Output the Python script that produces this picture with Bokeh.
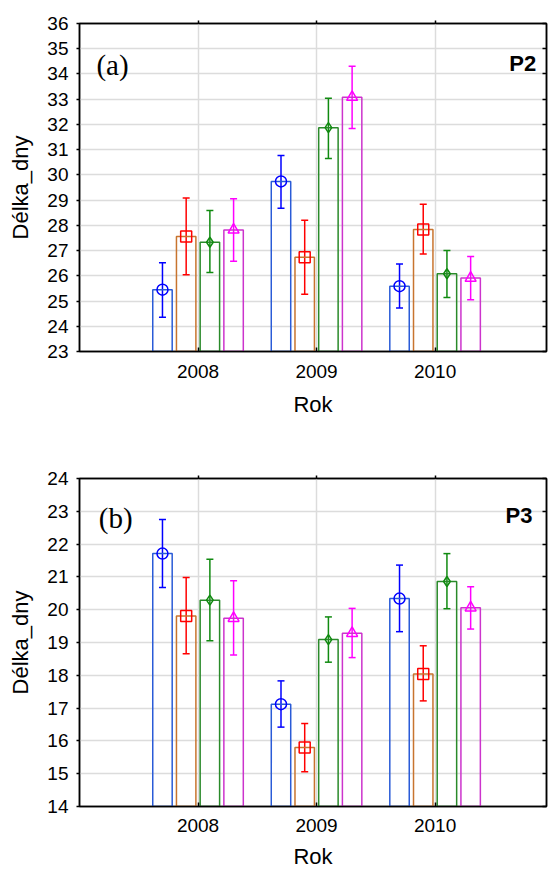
from bokeh.plotting import figure
from bokeh.models import (Range1d, FixedTicker, SingleIntervalTicker, LinearAxis,
                          ColumnDataSource, Whisker, TeeHead, Label)
from bokeh.layouts import column
from bokeh.embed import file_html
from bokeh.resources import INLINE

# ---------------- data ----------------
years = ["2008", "2009", "2010"]
year_pos = [1, 2, 3]

# panel (a) P2
p2_mean_s1 = [25.45, 29.74, 25.59]
p2_mean_s2 = [27.56, 26.74, 27.84]
p2_mean_s3 = [27.33, 31.87, 26.08]
p2_mean_s4 = [27.82, 33.08, 25.91]
p2_up_s1 = [26.52, 30.77, 26.47]
p2_up_s2 = [29.08, 28.20, 28.84]
p2_up_s3 = [28.59, 33.04, 27.00]
p2_up_s4 = [29.05, 34.31, 26.77]
p2_lo_s1 = [24.36, 28.68, 24.72]
p2_lo_s2 = [26.04, 25.27, 26.86]
p2_lo_s3 = [26.13, 30.65, 25.14]
p2_lo_s4 = [26.58, 31.84, 25.05]

# panel (b) P3
p3_mean_s1 = [21.71, 17.12, 20.34]
p3_mean_s2 = [19.81, 15.80, 18.04]
p3_mean_s3 = [20.29, 19.09, 20.86]
p3_mean_s4 = [19.74, 19.28, 20.06]
p3_up_s1 = [22.75, 17.83, 21.36]
p3_up_s2 = [20.98, 16.53, 18.90]
p3_up_s3 = [21.54, 19.78, 21.71]
p3_up_s4 = [20.88, 20.04, 20.70]
p3_lo_s1 = [20.68, 16.42, 19.33]
p3_lo_s2 = [18.66, 15.06, 17.22]
p3_lo_s3 = [19.05, 18.40, 20.03]
p3_lo_s4 = [18.62, 18.54, 19.41]

# ---------------- style ----------------
offsets = [-0.3, -0.1, 0.1, 0.3]
bar_colors = ["#2a5bd7", "#c8742e", "#2a8a2a", "#cc33cc"]
err_colors = ["#0000ff", "#ff0000", "#108a10", "#ff00ff"]
markers = ["circle", "square", "diamond", "triangle"]
msizes = [11, 11, 10, 11]
FONT = "Liberation Sans"


def make_panel(means, ups, los, ymin, ymax, tag, pname, tag_pos, pname_pos,
               height, top_border, bottom_border, xstand, xlabstand):
    p = figure(width=550, height=height, output_backend="svg", toolbar_location=None,
               x_range=Range1d(0, 3.94), y_range=Range1d(ymin, ymax),
               min_border_left=79, min_border_right=0,
               min_border_top=top_border, min_border_bottom=bottom_border)
    p.background_fill_color = "white"
    p.border_fill_color = "white"
    p.outline_line_color = "black"
    p.outline_line_width = 1.5

    p.xaxis.ticker = FixedTicker(ticks=year_pos)
    p.xaxis.major_label_overrides = {pos: yr for pos, yr in zip(year_pos, years)}
    p.yaxis.ticker = SingleIntervalTicker(interval=1)
    for ax in p.xaxis + p.yaxis:
        ax.axis_line_color = "black"
        ax.axis_line_width = 1.5
        ax.major_tick_line_color = "black"
        ax.major_tick_line_width = 1.5
        ax.minor_tick_line_color = None
        ax.major_label_text_font = FONT
        ax.major_label_text_color = "black"
        ax.axis_label_text_font = FONT
        ax.axis_label_text_font_style = "normal"
        ax.axis_label_text_color = "black"
        ax.axis_label_text_font_size = "22px"
    p.xaxis.major_tick_in = 4
    p.xaxis.major_tick_out = 0
    p.xaxis.major_label_text_font_size = "19px"
    p.xaxis.major_label_standoff = xstand
    p.xaxis.axis_label = "Rok"
    p.xaxis.axis_label_standoff = xlabstand
    p.yaxis.major_tick_in = 0
    p.yaxis.major_tick_out = 3
    p.yaxis.major_label_text_font_size = "19px"
    p.yaxis.major_label_standoff = 7
    p.yaxis.axis_label = "Délka_dny"
    p.yaxis.axis_label_standoff = 11

    right = LinearAxis(ticker=SingleIntervalTicker(interval=1), major_tick_in=4, major_tick_out=0,
                       major_label_text_font_size="0px", major_label_text_color=None,
                       major_label_standoff=0,
                       axis_line_color="black", axis_line_width=1.5,
                       major_tick_line_width=1.5, minor_tick_line_color=None)
    p.add_layout(right, "right")
    top = LinearAxis(ticker=FixedTicker(ticks=year_pos), major_tick_in=0, major_tick_out=3,
                     major_label_text_font_size="0px", major_label_text_color=None,
                     major_label_standoff=0,
                     axis_line_color="black", axis_line_width=1.5,
                     major_tick_line_width=1.5, minor_tick_line_color=None)
    p.add_layout(top, "above")

    p.xgrid.ticker = FixedTicker(ticks=year_pos)
    p.xgrid.grid_line_color = "#dcdcdc"
    p.xgrid.grid_line_width = 1.5
    p.ygrid.grid_line_color = "#dcdcdc"
    p.ygrid.grid_line_width = 1.5

    for k in range(4):
        xs = [pos + offsets[k] for pos in year_pos]
        src = ColumnDataSource(dict(x=xs, m=means[k], u=ups[k], l=los[k]))
        p.vbar(x="x", top="m", bottom=ymin, width=0.164, source=src,
               fill_color=None, line_color=bar_colors[k], line_width=1.5)
        wh = Whisker(base="x", upper="u", lower="l", source=src,
                     line_color=err_colors[k], line_width=1.5,
                     upper_head=TeeHead(size=7, line_color=err_colors[k], line_width=1.5),
                     lower_head=TeeHead(size=7, line_color=err_colors[k], line_width=1.5))
        p.add_layout(wh)
        p.scatter(x="x", y="m", source=src, marker=markers[k], size=msizes[k],
                  fill_color=None, line_color=err_colors[k], line_width=1.5)

    p.add_layout(Label(x=tag_pos[0], y=tag_pos[1], text=tag, text_font="Liberation Serif",
                       text_font_size="29px", text_color="black", text_baseline="alphabetic"))
    p.add_layout(Label(x=pname_pos[0], y=pname_pos[1], text=pname, text_font=FONT,
                       text_font_size="22px", text_font_style="bold", text_color="black",
                       text_align="right", text_baseline="alphabetic"))
    return p


p1 = make_panel([p2_mean_s1, p2_mean_s2, p2_mean_s3, p2_mean_s4],
                [p2_up_s1, p2_up_s2, p2_up_s3, p2_up_s4],
                [p2_lo_s1, p2_lo_s2, p2_lo_s3, p2_lo_s4],
                23, 36, "(a)", "P2", (0.143, 34.34), (3.853, 34.41),
                436, 23, 85, 13, 11)
p2 = make_panel([p3_mean_s1, p3_mean_s2, p3_mean_s3, p3_mean_s4],
                [p3_up_s1, p3_up_s2, p3_up_s3, p3_up_s4],
                [p3_lo_s1, p3_lo_s2, p3_lo_s3, p3_lo_s4],
                14, 24, "(b)", "P3", (0.163, 22.8), (3.822, 22.86),
                438, 42, 68, 12, 9)

layout = column(p1, p2, spacing=0)
open("out.html", "w").write(file_html(layout, INLINE))
